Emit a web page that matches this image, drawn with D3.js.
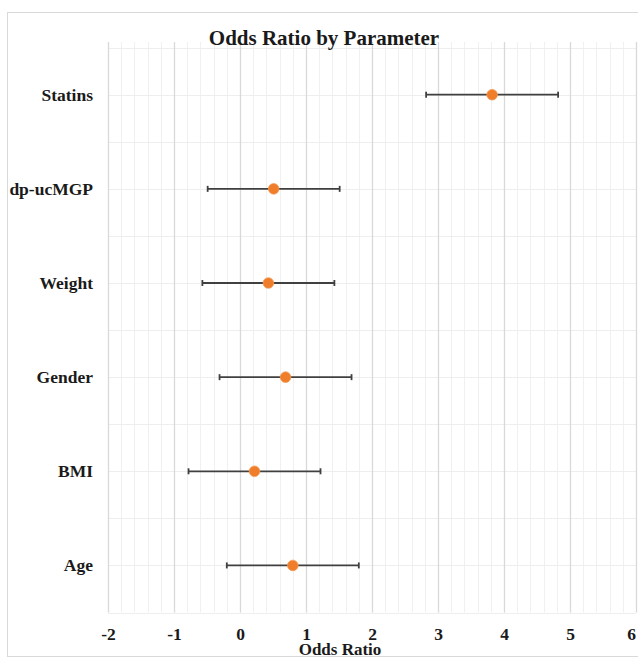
<!DOCTYPE html>
<html>
<head>
<meta charset="utf-8">
<script src="https://cdn.jsdelivr.net/npm/d3@7"></script>
<style>
  body { margin: 0; background: #fff; }
  text { font-family: "Liberation Serif", "Times New Roman", serif; font-weight: bold; fill: #1a1a1a; }
</style>
</head>
<body>
<div id="chart"></div>
<script>
// data
const parameters = ['Statins', 'dp-ucMGP', 'Weight', 'Gender', 'BMI', 'Age'];
const rowPos = [5.5, 4.5, 3.5, 2.5, 1.5, 0.5];
const oddsRatio = [3.82, 0.51, 0.43, 0.69, 0.22, 0.80];
const lowerCI = [2.82, -0.49, -0.57, -0.31, -0.78, -0.20];
const upperCI = [4.82, 1.51, 1.43, 1.69, 1.22, 1.80];
const xTicks = [-2, -1, 0, 1, 2, 3, 4, 5, 6];

const data = parameters.map((p, i) => ({
  name: p, y: rowPos[i], v: oddsRatio[i], lo: lowerCI[i], hi: upperCI[i]
}));

const width = 638;
const height = 659;
const margin = {left: 108, right: 2, top: 42, bottom: 46.5};
const innerWidth = width - margin.left - margin.right;
const innerHeight = height - margin.top - margin.bottom;

const svg = d3.select('#chart').append('svg')
  .attr('width', width)
  .attr('height', height);

// chart border
svg.append('rect')
  .attr('x', 7.5).attr('y', 12.5)
  .attr('width', 640).attr('height', 644)
  .attr('fill', '#fff')
  .attr('stroke', '#d9d9d9');

const g = svg.append('g')
  .attr('transform', `translate(${margin.left},${margin.top})`);

const xScale = d3.scaleLinear().domain([-2, 6]).range([0, innerWidth]);
const yScale = d3.scaleLinear().domain([0, 6.06]).range([innerHeight, 0]);

// minor vertical grid
g.append('g').selectAll('line')
  .data(d3.range(-2, 6.001, 0.2))
  .enter().append('line')
  .attr('x1', d => Math.round(xScale(d)) + 0.5)
  .attr('x2', d => Math.round(xScale(d)) + 0.5)
  .attr('y1', 0).attr('y2', innerHeight)
  .attr('stroke', '#f0f0f0');

// horizontal grid
g.append('g').selectAll('line')
  .data(d3.range(0, 6.001, 0.5))
  .enter().append('line')
  .attr('x1', 0).attr('x2', innerWidth)
  .attr('y1', d => Math.round(yScale(d)) + 0.5)
  .attr('y2', d => Math.round(yScale(d)) + 0.5)
  .attr('stroke', '#eeeeee');

// major vertical grid + tick labels
const xAxis = d3.axisBottom(xScale)
  .tickValues(xTicks)
  .tickSize(-innerHeight)
  .tickPadding(15)
  .tickFormat(d => String(d));

const xAxisG = g.append('g')
  .attr('transform', `translate(0,${innerHeight})`)
  .call(xAxis);
xAxisG.select('.domain').remove();
xAxisG.selectAll('line').attr('stroke', '#d9d9d9').attr('stroke-width', 1.3);
xAxisG.selectAll('text')
  .attr('font-size', 17.5)
  .attr('font-family', '"Liberation Serif", serif')
  .attr('fill', '#1a1a1a')
  .attr('dx', d => d === 6 ? -5 : 0);

// category labels
g.selectAll('.cat').data(data)
  .enter().append('text')
  .attr('class', 'cat')
  .attr('x', -15)
  .attr('y', d => yScale(d.y) + 6)
  .attr('text-anchor', 'end')
  .attr('font-size', 17.5)
  .text(d => d.name);

// error bars
const bars = g.selectAll('.err').data(data).enter().append('g').attr('class', 'err');
bars.append('line')
  .attr('x1', d => xScale(d.lo)).attr('x2', d => xScale(d.hi))
  .attr('y1', d => yScale(d.y)).attr('y2', d => yScale(d.y))
  .attr('stroke', '#404040').attr('stroke-width', 1.8);
['lo', 'hi'].forEach(k => {
  bars.append('line')
    .attr('x1', d => xScale(d[k])).attr('x2', d => xScale(d[k]))
    .attr('y1', d => yScale(d.y) - 3).attr('y2', d => yScale(d.y) + 3)
    .attr('stroke', '#404040').attr('stroke-width', 1.8);
});

// points
g.selectAll('circle').data(data)
  .enter().append('circle')
  .attr('cx', d => xScale(d.v))
  .attr('cy', d => yScale(d.y))
  .attr('r', 5.3)
  .attr('fill', '#ef7d2a')
  .attr('stroke', '#f49a55')
  .attr('stroke-width', 0.8);

// titles
svg.append('text')
  .attr('x', 324).attr('y', 45)
  .attr('text-anchor', 'middle')
  .attr('font-size', 21)
  .text('Odds Ratio by Parameter');

svg.append('text')
  .attr('x', 340).attr('y', 655)
  .attr('text-anchor', 'middle')
  .attr('font-size', 17)
  .text('Odds Ratio');
</script>
</body>
</html>
